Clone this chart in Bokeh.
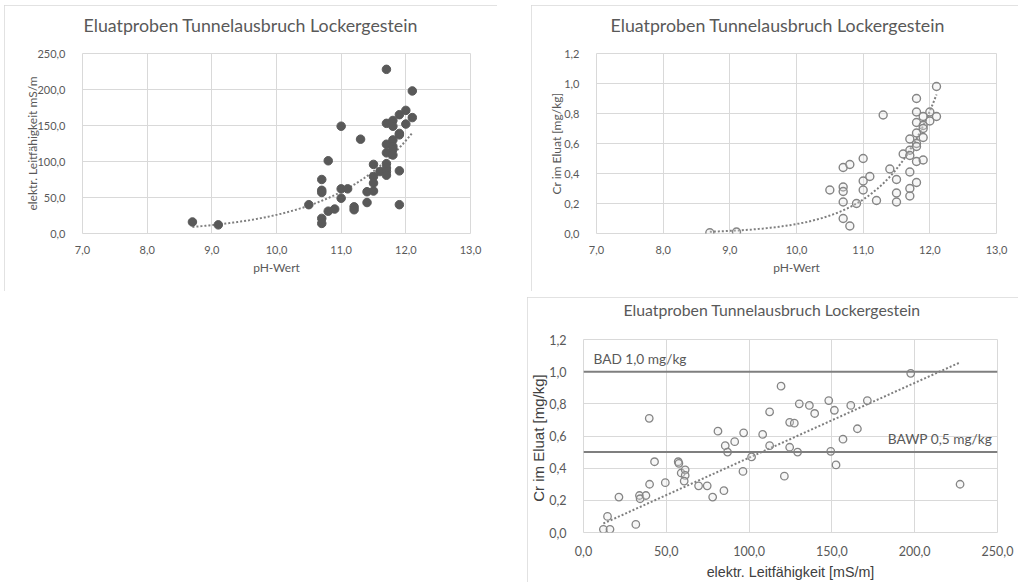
import numpy as np
from bokeh.plotting import figure
from bokeh.layouts import column, row
from bokeh.models import (Spacer, Span, Label, FixedTicker, CustomJSTickFormatter, Range1d,
                          LinearAxis)
from bokeh.embed import file_html
from bokeh.resources import INLINE

TITLE = "Eluatproben Tunnelausbruch Lockergestein"

# Chart 1: pH vs electrical conductivity
ph1 = [8.7, 9.1, 10.5, 10.7, 10.7, 10.7, 10.7, 10.7, 10.8, 10.8, 10.9, 11.0, 11.0, 11.0,
       11.1, 11.2, 11.2, 11.3, 11.4, 11.4, 11.5, 11.5, 11.5, 11.5, 11.6, 11.7, 11.7, 11.7,
       11.7, 11.7, 11.7, 11.7, 11.7, 11.8, 11.8, 11.8, 11.8, 11.8, 11.8, 11.9, 11.9, 11.9,
       11.9, 11.9, 12.0, 12.0, 12.1, 12.1]
ec1 = [16, 12, 40, 75, 60, 57, 21, 14, 101, 31, 34, 149, 62, 49,
       62, 37, 33, 131, 58, 43, 96, 79, 70, 59, 86, 228, 153, 124,
       112, 97, 91, 86, 81, 157, 149, 130, 121, 117, 109, 165, 139, 137,
       87, 40, 171, 152, 198, 161]

# Chart 2: pH vs Cr
ph2 = [8.7, 9.1, 10.5, 10.7, 10.7, 10.7, 10.7, 10.7, 10.8, 10.8, 10.9, 11.0, 11.0, 11.0,
       11.1, 11.2, 11.3, 11.4, 11.5, 11.5, 11.5, 11.6, 11.7, 11.7, 11.7, 11.7, 11.7, 11.7,
       11.8, 11.8, 11.8, 11.8, 11.8, 11.8, 11.8, 11.8, 11.9, 11.9, 11.9, 11.9, 11.9,
       12.0, 12.0, 12.1, 12.1]
cr2 = [0.005, 0.01, 0.29, 0.44, 0.31, 0.28, 0.21, 0.10, 0.46, 0.05, 0.20, 0.50, 0.35, 0.29,
       0.38, 0.22, 0.79, 0.43, 0.36, 0.27, 0.21, 0.53, 0.63, 0.555, 0.52, 0.41, 0.30, 0.25,
       0.90, 0.81, 0.74, 0.67, 0.60, 0.58, 0.48, 0.34, 0.78, 0.72, 0.70, 0.64, 0.49,
       0.81, 0.75, 0.98, 0.78]

# Chart 3: conductivity vs Cr
ec3 = [12, 16, 14.5, 21.4, 31.6, 33.8, 34.2, 37.7, 39.7, 39.9, 42.9, 49.4, 57.2, 57.6,
       59.0, 61.4, 61.4, 60.8, 69.5, 74.7, 78.0, 81.2, 84.8, 85.6, 87.0, 91.3, 96.7, 96.3,
       101.5, 108.2, 112.4, 112.4, 119.3, 121.3, 124.5, 124.5, 127.3, 129.3, 130.3, 136.4,
       139.6, 148.1, 149.3, 151.5, 152.5, 156.7, 161.4, 165.4, 171.4, 197.6, 227.4]
cr3 = [0.02, 0.02, 0.10, 0.22, 0.05, 0.23, 0.21, 0.23, 0.71, 0.30, 0.44, 0.31, 0.44, 0.43,
       0.37, 0.39, 0.355, 0.32, 0.29, 0.29, 0.22, 0.63, 0.26, 0.54, 0.50, 0.565, 0.62, 0.38,
       0.47, 0.61, 0.75, 0.54, 0.91, 0.35, 0.685, 0.53, 0.68, 0.50, 0.80, 0.79,
       0.74, 0.82, 0.505, 0.76, 0.42, 0.58, 0.79, 0.645, 0.82, 0.99, 0.30]

# limit values (chart 3)
limits = [1.0, 0.5]
limit_labels = ["BAD 1,0 mg/kg", "BAWP 0,5 mg/kg"]

ph_ticks = [7, 8, 9, 10, 11, 12, 13]
ec_ticks = [0, 50, 100, 150, 200, 250]
cr_ticks = [0, 0.2, 0.4, 0.6, 0.8, 1.0, 1.2]

GRID = "#d9d9d9"
TXT = "#595959"
FONT = "Lato"
FMT = "return tick.toFixed(1).replace('.', ',');"


def make(width, height, xr, yr, xt, yt, ml, mr, mt, mb, xlabel, ylabel,
         title_offset, title_gap, title_size="17.8px",
         label_font=FONT, label_size="12px", label_color=TXT,
         tick_size="11px", ylab_standoff=-6, xlab_standoff=3,
         x_tick_standoff=6, y_tick_standoff=11):
    p = figure(width=width, height=height, x_range=Range1d(*xr), y_range=Range1d(*yr),
               output_backend="svg", toolbar_location=None,
               min_border_left=ml, min_border_right=mr, min_border_top=mt,
               min_border_bottom=mb, title=TITLE)
    p.title.align = "left"
    p.title.offset = title_offset
    p.title.vertical_align = "bottom"
    p.title.standoff = 0
    p.title.text_font = FONT
    p.title.text_font_size = title_size
    p.title.text_font_style = "normal"
    p.title.text_color = TXT
    p.outline_line_color = GRID
    p.outline_line_width = 1
    p.styles = {"outline": "1px solid " + GRID, "outline-offset": "-1px"}
    xa = p.below[0]
    ya = p.left[0]
    for ax, ticks, lab in ((xa, xt, xlabel), (ya, yt, ylabel)):
        ax.ticker = FixedTicker(ticks=ticks)
        ax.formatter = CustomJSTickFormatter(code=FMT)
        ax.axis_line_color = None
        ax.major_tick_line_color = None
        ax.minor_tick_line_color = None
        ax.major_label_text_font = FONT
        ax.major_label_text_font_size = tick_size
        ax.major_label_text_color = TXT
        ax.axis_label = lab
        ax.axis_label_text_font = label_font
        ax.axis_label_text_font_size = label_size
        ax.axis_label_text_font_style = "normal"
        ax.axis_label_text_color = label_color
    xa.major_label_standoff = x_tick_standoff
    ya.major_label_standoff = y_tick_standoff
    xa.axis_label_standoff = xlab_standoff
    ya.axis_label_standoff = ylab_standoff
    p.xgrid.ticker = FixedTicker(ticks=xt)
    p.ygrid.ticker = FixedTicker(ticks=yt)
    p.xgrid.grid_line_color = GRID
    p.ygrid.grid_line_color = GRID
    # empty axis above the plot area: its blank label only keeps a gap
    # between the title and the plot area
    gap = LinearAxis(ticker=FixedTicker(ticks=[]), axis_line_color=None,
                     major_tick_line_color=None, minor_tick_line_color=None,
                     major_label_text_font_size="0px", major_tick_out=0,
                     major_tick_in=0, minor_tick_out=0, minor_tick_in=0,
                     major_label_standoff=0, axis_label=" ",
                     axis_label_text_font_size="2px", axis_label_standoff=title_gap - 2)
    p.add_layout(gap, "above")
    return p


def exp_trend(x, y):
    # Excel-style exponential trendline (least squares on ln y)
    x = np.asarray(x, float)
    y = np.asarray(y, float)
    b, lna = np.polyfit(x, np.log(y), 1)
    xs = np.linspace(x.min(), x.max(), 120)
    return xs, np.exp(lna + b * xs)


def lin_trend_origin(x, y):
    # linear trendline with intercept fixed at 0
    x = np.asarray(x, float)
    y = np.asarray(y, float)
    m = np.sum(x * y) / np.sum(x * x)
    xs = np.array([x.min(), x.max()])
    return xs, m * xs


TREND = dict(line_color="#7f7f7f", line_width=2, line_dash="2 2")

# ---- chart 1
p1 = make(493, 286, (7, 13), (0, 250), ph_ticks, ec_ticks, 78, 27, 48, 57,
          "pH-Wert", "elektr. Leitfähigkeit mS/m", 1, 15)
tx, ty = exp_trend(ph1, ec1)
p1.line(tx, ty, **TREND)
p1.scatter(ph1, ec1, size=8.5, marker="circle", fill_color="#595959", line_color="#595959")

# ---- chart 2
p2 = make(487, 286, (7, 13), (0, 1.2), ph_ticks, cr_ticks, 65, 22, 48, 58,
          "pH-Wert", "Cr im Eluat [mg/kg]", 14, 15, ylab_standoff=-3)
tx, ty = exp_trend(ph2, cr2)
p2.line(tx, ty, **TREND)
p2.scatter(ph2, cr2, size=8, marker="circle", fill_color="#e6e6e6", fill_alpha=0.3,
           line_color="#858585", line_width=1.4)

# ---- chart 3
p3 = make(491, 285, (0, 250), (0, 1.2), ec_ticks, cr_ticks, 56, 21, 41, 47,
          "elektr. Leitfähigkeit [mS/m]", "Cr im  Eluat [mg/kg]", 40, 18,
          title_size="15.8px", label_font="Liberation Sans", label_size="14.3px",
          label_color="#404040", tick_size="12.5px",
          ylab_standoff=-1, xlab_standoff=5, x_tick_standoff=7)
p3.left[0].axis_label_text_font_size = "15px"
for lv in limits:
    p3.add_layout(Span(location=lv, dimension="width", line_color="#7f7f7f", line_width=2))
tx, ty = lin_trend_origin(ec3, cr3)
p3.line(tx, ty, **TREND)
p3.scatter(ec3, cr3, size=7.5, marker="circle", fill_color="#e6e6e6", fill_alpha=0.3,
           line_color="#858585", line_width=1.3)
p3.add_layout(Label(x=6, y=limits[0] + 0.083, text=limit_labels[0], text_align="left",
                    text_baseline="middle", text_font=FONT, text_font_size="13.7px",
                    text_color=TXT))
p3.add_layout(Label(x=246.8, y=limits[1] + 0.084, text=limit_labels[1], text_align="right",
                    text_baseline="middle", text_font=FONT, text_font_size="13.7px",
                    text_color=TXT))

top = row(Spacer(width=4, height=286), p1, Spacer(width=34, height=286), p2)
bottom = row(Spacer(width=527, height=285), p3)
page = column(Spacer(width=10, height=5), top, Spacer(width=10, height=6), bottom)

open("out.html", "w").write(file_html(page, INLINE))
